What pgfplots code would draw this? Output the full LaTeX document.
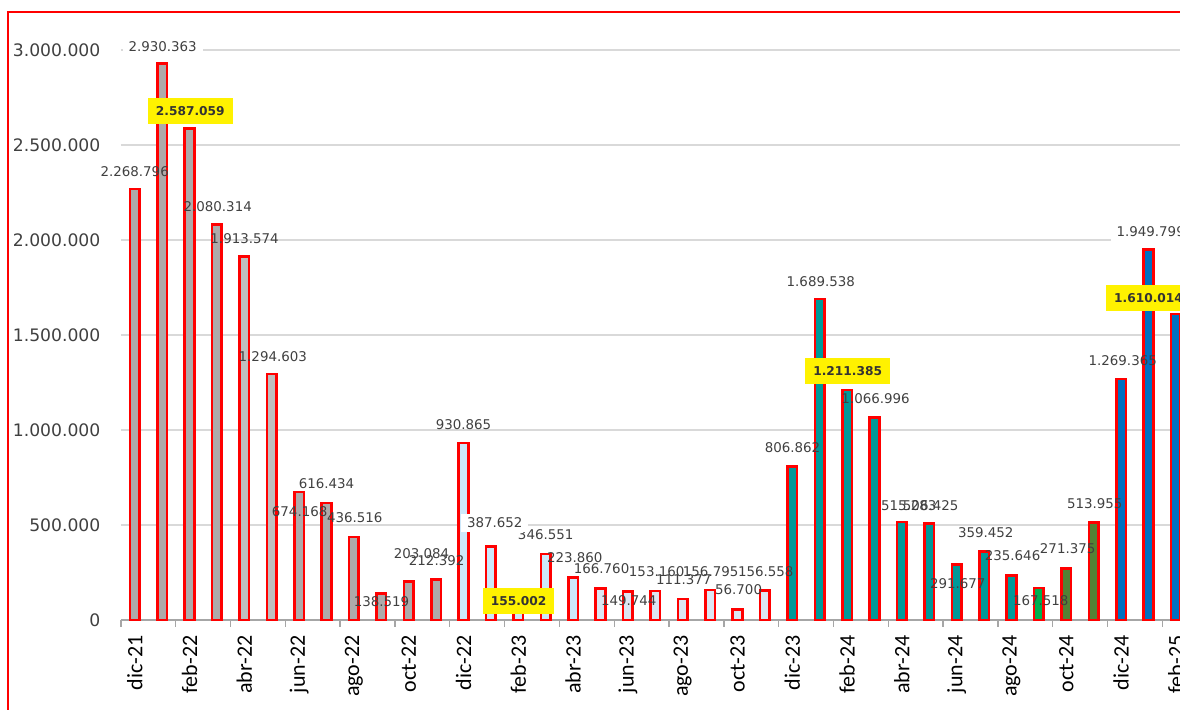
\documentclass[border=0pt]{standalone}
\usepackage{pgfplots}
\usepackage{pgfplotstable}
\pgfplotsset{compat=1.18}
\usepackage{fontspec}
\setmainfont{DejaVu Sans}
\newfontfamily\calib{Carlito}
\definecolor{txt}{HTML}{404040}
\definecolor{grisA}{HTML}{AEAAAA}
\definecolor{grisB}{HTML}{BFBFBF}
\definecolor{celA}{HTML}{CDE8FA}
\definecolor{celB}{HTML}{DCE6F2}
\definecolor{teal2}{HTML}{009999}
\definecolor{verde}{HTML}{00B050}
\definecolor{oliva}{HTML}{548235}
\definecolor{azul}{HTML}{0070C0}
\definecolor{rejilla}{HTML}{D9D9D9}

% monthly values, index 0 = dic-21
\pgfplotstableread{
x y
0 2268796
1 2930363
2 2587059
3 2080314
6 674168
7 616434
8 436516
9 138519
10 203084
11 212392
}\grisdata
\pgfplotstableread{
x y
4 1913574
5 1294603
}\grisclaro
\pgfplotstableread{
x y
12 930865
13 387652
14 155002
15 346551
16 223860
}\celeste
\pgfplotstableread{
x y
17 166760
18 149744
19 153160
20 111377
21 156795
22 56700
23 156558
}\palido
\pgfplotstableread{
x y
24 806862
25 1689538
26 1211385
27 1066996
28 515283
29 506425
30 291677
31 359452
32 235646
}\tealdata
\pgfplotstableread{
x y
33 167518
}\verdedata
\pgfplotstableread{
x y
34 271375
35 513955
}\olivadata
\pgfplotstableread{
x y
36 1269365
37 1949799
38 1610014
}\azuldata

% label positions (x index, y in data units) as placed in the chart
\pgfplotstableread{
x y lab
0 2357895 2.268.796
3.03 2173700 2.080.314
4.01 2005300 1.913.574
5.04 1384200 1.294.603
7.0 715800 616.434
6.02 568400 674.168
8.03 536800 436.516
9.01 94700 138.519
10.47 347400 203.084
11.02 310500 212.392
12.0 1026300 930.865
15.0 447400 346.551
16.06 326300 223.860
17.04 268400 166.760
18.03 100000 149.744
19.05 252600 153.160
20.04 210500 111.377
21.02 252600 156.795
22.04 157900 56.700
23.03 252600 156.558
24.01 905300 806.862
25.04 1778900 1.689.538
27.04 1163200 1.066.996
28.25 600000 515.283
29.05 600000 506.425
30.04 189500 291.677
31.06 457900 359.452
32.04 336800 235.646
33.07 100000 167.518
34.05 373700 271.375
35.04 610500 513.955
36.06 1363200 1.269.365
}\etiq
\pgfplotstableread{
x y lab
1.02 3015800 2.930.363
13.14 510500 387.652
37.08 2042100 1.949.799
}\etiqblanca
\pgfplotstableread{
x y lab
2.03 2678900 2.587.059
14.01 100000 155.002
26.02 1310500 1.211.385
37.0 1694700 1.610.014
}\etiqamarilla

\begin{document}
\begin{tikzpicture}
\clip (0,0) rectangle (590pt,355pt);
\begin{axis}[
  at={(60.5pt,45pt)}, anchor=south west,
  scale only axis,
  width=534.3pt, height=299.25pt,
  xmin=-0.5, xmax=38.5,
  ymin=0, ymax=3150000,
  clip=false,
  axis x line*=bottom,
  axis y line*=left,
  x axis line style={-, draw=gray!70, line width=0.75pt},
  y axis line style={draw=none},
  ytick={0,500000,...,3000000},
  scaled y ticks=false,
  yticklabel={\pgfmathprintnumber[fixed,precision=0,1000 sep={.},assume math mode=true]{\tick}},
  yticklabel style={font=\fontsize{8.6}{10}\selectfont, text=txt, xshift=-2.5pt},
  ymajorgrids,
  grid style={rejilla, line width=0.9pt},
  major y tick style={draw=none},
  xtick={0,2,...,38},
  xticklabels={dic-21,feb-22,abr-22,jun-22,ago-22,oct-22,dic-22,feb-23,abr-23,jun-23,ago-23,oct-23,dic-23,feb-24,abr-24,jun-24,ago-24,oct-24,dic-24,feb-25},
  xticklabel style={rotate=90, anchor=east, font=\calib\fontsize{11}{12}\selectfont, text=black},
  major x tick style={draw=none},
  minor xtick={-0.5,1.5,...,37.5},
  minor x tick style={draw=gray!70, line width=0.7pt},
  minor tick length=3.5pt,
  tick align=outside,
  every axis plot/.append style={line width=1.3pt},
]
\pgfplotsset{barra/.style={ybar, bar width=4.8pt, bar shift=0pt, draw=red}}
\addplot[barra, fill=grisA] table {\grisdata};
\addplot[barra, fill=grisB] table {\grisclaro};
\addplot[barra, fill=celA] table {\celeste};
\addplot[barra, fill=celB] table {\palido};
\addplot[barra, fill=teal2] table {\tealdata};
\addplot[barra, fill=verde] table {\verdedata};
\addplot[barra, fill=oliva] table {\olivadata};
\addplot[barra, fill=azul] table {\azuldata};

\addplot[draw=none, mark=none, nodes near coords, point meta=explicit symbolic,
  nodes near coords align={anchor=center},
  every node near coord/.style={anchor=center, inner sep=1pt, text=txt, font=\fontsize{6.7}{8}\selectfont}]
  table[x=x, y=y, meta=lab] {\etiq};
\addplot[draw=none, mark=none, nodes near coords, point meta=explicit symbolic,
  nodes near coords align={anchor=center},
  every node near coord/.style={anchor=center, fill=white, inner xsep=3pt, inner ysep=2pt, text=txt, font=\fontsize{6.7}{8}\selectfont}]
  table[x=x, y=y, meta=lab] {\etiqblanca};
\addplot[draw=none, mark=none, nodes near coords, point meta=explicit symbolic,
  nodes near coords align={anchor=center},
  every node near coord/.style={anchor=center, fill=yellow, inner xsep=4pt, inner ysep=4.3pt, text=black!80, font=\bfseries\fontsize{6.1}{7}\selectfont}]
  table[x=x, y=y, meta=lab] {\etiqamarilla};
\end{axis}
\draw[red, line width=1.25pt] (4pt,-5pt) -- (4pt,349pt) -- (600pt,349pt);
\end{tikzpicture}
\end{document}
